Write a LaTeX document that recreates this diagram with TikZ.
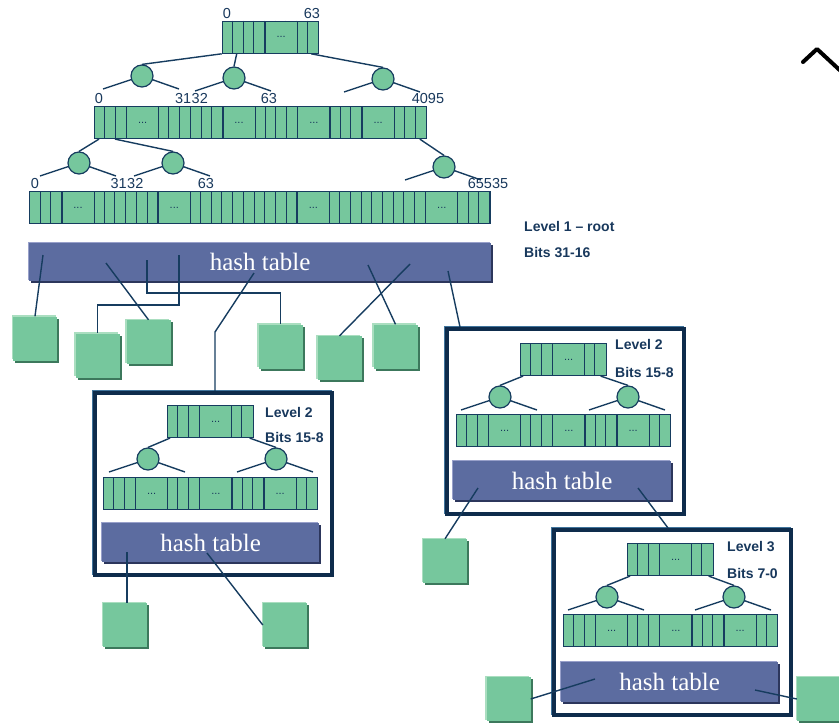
\documentclass[tikz,border=0pt]{standalone}
\usepackage{fontspec}
\setsansfont{Liberation Sans}
\newfontfamily\hashfont{Liberation Serif}
\definecolor{cellgreen}{RGB}{118,199,157}
\definecolor{greenlight}{RGB}{170,222,192}
\definecolor{greendark}{RGB}{60,120,92}
\definecolor{navy}{RGB}{22,60,95}
\definecolor{textnavy}{RGB}{24,56,92}
\definecolor{hashblue}{RGB}{92,108,160}
\definecolor{hashlight}{RGB}{152,160,202}
\definecolor{hashdark}{RGB}{44,54,92}
\definecolor{framedark}{RGB}{14,44,76}
\definecolor{framelight}{RGB}{64,116,156}
\tikzset{
  wire/.style={draw=navy, line width=1.4pt},
  cut/.style={draw=navy, line width=1pt},
  slots/.style={rectangle, draw=navy, fill=cellgreen, line width=1.1pt, inner sep=0pt,
    minimum height=32pt, font=\sffamily\fontsize{11}{11}\selectfont, text=textnavy},
  knot/.style={circle, draw=navy, fill=cellgreen, line width=1.2pt, minimum size=22pt, inner sep=0pt},
  bucket/.style={rectangle, fill=cellgreen, minimum size=44pt, inner sep=0pt,
    preaction={fill=greendark, transform canvas={xshift=2pt,yshift=-2pt}},
    preaction={fill=greenlight, transform canvas={xshift=-1.5pt,yshift=1.5pt}}},
  hashtab/.style={rectangle, fill=hashblue, text=white, inner sep=0pt, anchor=north west,
    font=\hashfont\fontsize{25}{25}\selectfont,
    preaction={fill=hashdark, transform canvas={xshift=2pt,yshift=-2pt}},
    preaction={fill=hashlight, transform canvas={xshift=-1.5pt,yshift=1.5pt}}},
  levelbox/.style={rectangle, fill=white, draw=framedark, line width=3.5pt, anchor=north west,
    minimum width=237pt,
    preaction={draw=framelight, line width=3pt, transform canvas={xshift=-1.5pt,yshift=1.5pt}}},
  num/.style={font=\sffamily\fontsize{14.5}{15}\selectfont, text=textnavy, inner sep=0pt},
  lvl/.style={font=\sffamily\bfseries\fontsize{14}{14}\selectfont, text=textnavy, inner sep=0pt, anchor=west}
}
% row of slots: name, x, y, number of cells, first cells of the "..." blocks
\newcommand{\slotrow}[5]{%
  \node[slots, minimum width=#4*10.7pt, anchor=north west] (#1) at (#2,#3) {};
  \pgfmathtruncatemacro{\lastcut}{#4-1}
  \foreach \k in {1,...,\lastcut}
    \draw[cut] ([xshift=\k*10.7pt]#1.north west) -- ([xshift=\k*10.7pt]#1.south west);
  \foreach \e in {#5}
    \node[slots, minimum width=32.1pt, anchor=north west] (#1-\e) at ([xshift=\e*10.7pt]#1.north west) {...};
}
\newcommand{\fork}[1]{\draw[wire] (#1) -- +(-39,13) (#1) -- +(37,13);}
\begin{document}
\begin{tikzpicture}[x=1pt,y=-1pt]
\clip (0,0) rectangle (839,723);
% level 1 - root
\slotrow{A0}{221.7}{20.7}{9}{4}
\slotrow{A1}{94}{106}{31}{3,12,19,25}
\slotrow{A2}{29.3}{191}{43}{3,12,25,37}
\node[knot] (c1) at (142,76) {};
\node[knot] (c2) at (234,78) {};
\node[knot] (c3) at (383,79) {};
\node[knot] (d1) at (79,163) {};
\node[knot] (d2) at (173,163) {};
\node[knot] (d3) at (444,167) {};
\draw[wire] (A0.south west) -- (c1.north);
\draw[wire] ([xshift=15pt]A0.south west) -- (c2.north);
\draw[wire] ([xshift=-8pt]A0.south east) -- (c3.north);
\draw[wire] ([xshift=5pt]A1.south west) -- (d1.north);
\draw[wire] ([xshift=21pt]A1.south west) -- (d2.north);
\draw[wire] ([xshift=-7pt]A1.south east) -- (d3.north);
\foreach \c in {c1,c2,c3,d1,d2,d3} {\fork{\c}}
\node[num] (l0) at (227,14) {0};
\node[num] (l63) at (312,14) {63};
\node[num] (m0) at (99,99) {0};
\node[num, anchor=east] (m31) at (191.5,99) {31};
\node[num, anchor=west] (m32) at (191.5,99) {32};
\node[num] (m63) at (269,99) {63};
\node[num] (m4095) at (428,99) {4095};
\node[num] (b0) at (35,184) {0};
\node[num, anchor=east] (b31) at (127,184) {31};
\node[num, anchor=west] (b32) at (127,184) {32};
\node[num] (b63) at (206,184) {63};
\node[num] (b65535) at (488,184) {65535};
\node[lvl] (t1) at (524,226) {Level 1 – root};
\node[lvl] (t2) at (524,253) {Bits 31-16};
\node[hashtab, minimum width=462pt, minimum height=38pt] (H0) at (29,243) {hash table};
\node[bucket] (s1) at (35,338.5) {};
\node[bucket] (s2) at (97.5,355.5) {};
\node[bucket] (s3) at (148.5,342) {};
\node[bucket] (s4) at (280.5,346.5) {};
\node[bucket] (s5) at (339.5,358) {};
\node[bucket] (s6) at (395.5,346.5) {};
\node[levelbox, minimum height=182pt] (LA) at (93,391) {};
\node[levelbox, minimum height=185pt] (LB) at (445,327) {};
\node[levelbox, minimum height=185pt] (LC) at (552,528) {};
\coordinate (p1) at (43,255);
\coordinate (p2) at (106,263);
\coordinate (p3) at (179,255);
\coordinate (p4) at (147,260);
\coordinate (p5) at (254,273);
\coordinate (p6) at (368,265);
\coordinate (p7) at (410,264);
\coordinate (p8) at (448,271);
\draw[wire] (p1) -- (s1.north);
\draw[wire] (p2) -- (s3.north);
\draw[wire] (p3) -- ++(0,50) -| (s2.north);
\draw[wire] (p4) -- ++(0,33) -| (s4.north);
\draw[wire] (p5) -- ++(-39,59) coordinate (q5) -- (q5 |- LA.north);
\draw[wire] (p6) -- (s6.north);
\draw[wire] (p7) -- (s5.north);
\draw[wire] (p8) -- ([xshift=15pt]LB.north west);
% level 2, left
\slotrow{A3}{167}{405}{8}{3}
\slotrow{A4}{103}{477}{20}{3,9,15}
\node[knot] (e1) at (148,459) {};
\node[knot] (e2) at (276,459) {};
\draw[wire] ([xshift=3pt]A3.south west) -- (e1.north);
\draw[wire] ([xshift=-4pt]A3.south east) -- (e2.north);
\fork{e1} \fork{e2}
\node[lvl] (t3) at (265,412) {Level 2};
\node[lvl] (t4) at (265,437) {Bits 15-8};
\node[hashtab, minimum width=217pt, minimum height=39pt] (HA) at (102,523) {hash table};
\node[bucket] (s7) at (125,625) {};
\node[bucket] (s8) at (285,625) {};
\coordinate (pa1) at (127,552);
\coordinate (pa2) at (207,553);
\draw[wire] (pa1) -- (pa1 |- s7.north);
\draw[wire] (pa2) -- (s8.west);
% level 2, right
\slotrow{A5}{520}{343}{8}{3}
\slotrow{A6}{456}{414}{20}{3,9,15}
\node[knot] (f1) at (500,397) {};
\node[knot] (f2) at (628,397) {};
\draw[wire] ([xshift=3pt]A5.south west) -- (f1.north);
\draw[wire] ([xshift=-6pt]A5.south east) -- (f2.north);
\fork{f1} \fork{f2}
\node[lvl] (t5) at (615,344) {Level 2};
\node[lvl] (t6) at (615,372) {Bits 15-8};
\node[hashtab, minimum width=218pt, minimum height=39pt] (HB) at (453,461) {hash table};
\node[bucket] (s9) at (445,561) {};
\coordinate (pb1) at (478,488);
\coordinate (pb2) at (638,488);
\draw[wire] (pb1) -- (s9.north);
\draw[wire] (pb2) -- ([xshift=116pt]LC.north west);
% level 3
\slotrow{A7}{627}{543}{8}{3}
\slotrow{A8}{563}{614}{20}{3,9,15}
\node[knot] (g1) at (607,597) {};
\node[knot] (g2) at (734,597) {};
\draw[wire] ([xshift=3pt]A7.south west) -- (g1.north);
\draw[wire] ([xshift=-5pt]A7.south east) -- (g2.north);
\fork{g1} \fork{g2}
\node[lvl] (t7) at (727,547) {Level 3};
\node[lvl] (t8) at (727,573) {Bits 7-0};
\node[hashtab, minimum width=217pt, minimum height=40pt] (HC) at (561,662) {hash table};
\node[bucket] (s10) at (508.5,699) {};
\node[bucket] (s11) at (819,699) {};
\coordinate (pc1) at (595,679);
\coordinate (pc2) at (755,690);
\draw[wire] (pc1) -- (s10.east);
\draw[wire] (pc2) -- (s11.west);
\draw[line width=4pt, line cap=round, line join=round] (803,62) -- (817,49) -- (845,75);
\end{tikzpicture}
\end{document}
